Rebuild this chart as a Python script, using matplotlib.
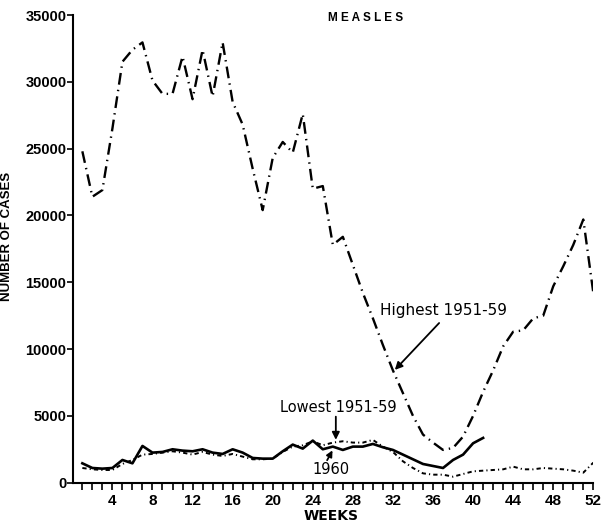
import numpy as np
import matplotlib
matplotlib.use("Agg")
import matplotlib.pyplot as plt
from matplotlib.ticker import MultipleLocator

# weekly measles cases
weeks = np.arange(1, 53)
highest = [24800, 21400, 21900, 26500, 31500, 32400, 32950, 30100, 29100, 29100,
           31900, 28700, 32400, 28900, 32950, 28500, 26800, 23500, 20400, 24300,
           25500, 24700, 27600, 22000, 22200, 17800, 18400, 16300, 14200, 12300,
           10300, 8400, 6700, 5000, 3600, 3000, 2450, 2600, 3450, 5000,
           6800, 8400, 10200, 11300, 11400, 12300, 12500, 14700, 16200, 17800,
           19700, 14200]
lowest = [1100, 1000, 950, 950, 1400, 1700, 2100, 2150, 2250, 2350,
          2250, 2100, 2300, 2100, 2000, 2150, 1950, 1750, 1750, 1800,
          2300, 2700, 2800, 3100, 2800, 3000, 3100, 3000, 3000, 3200,
          2700, 2300, 1600, 1100, 700, 600, 600, 450, 650, 850,
          900, 950, 1000, 1200, 1000, 1000, 1100, 1050, 1000, 900,
          750, 1500]
weeks_1960 = np.arange(1, 42)
cases_1960 = [1450, 1100, 1050, 1100, 1700, 1450, 2750, 2250, 2300, 2500,
              2400, 2350, 2500, 2250, 2150, 2500, 2250, 1850, 1800, 1800,
              2350, 2850, 2550, 3150, 2500, 2700, 2450, 2700, 2700, 2900,
              2650, 2450, 2100, 1750, 1400, 1250, 1100, 1700, 2100, 2950,
              3350]

lab_font = ['Liberation Sans', 'DejaVu Sans']

fig = plt.figure(figsize=(6.05, 5.25), dpi=100)
ax = fig.add_axes([0.1212, 0.0806, 0.8595, 0.8908])

ax.plot(weeks, highest, color='black', lw=1.7, linestyle=(0, (5, 2.2, 0.6, 2.2)))
ax.plot(weeks, lowest, color='black', lw=1.4, linestyle=(0, (2.2, 1.6, 0.6, 1.6)))
ax.plot(weeks_1960, cases_1960, color='black', lw=1.9, linestyle='-')

ax.set_xlim(0.1, 52)
ax.set_ylim(0, 35000)
ax.xaxis.set_major_locator(MultipleLocator(4))
ax.xaxis.set_minor_locator(MultipleLocator(1))
ax.yaxis.set_major_locator(MultipleLocator(5000))
ax.tick_params(axis='x', which='both', direction='out', length=5, width=1.2, pad=3)
ax.tick_params(axis='y', direction='out', length=4, width=1.2, pad=1)
for lab in ax.get_xticklabels():
    lab.set_family(lab_font)
    lab.set_fontweight('bold')
    lab.set_fontsize(11)
for lab in ax.get_yticklabels():
    lab.set_family(lab_font)
    lab.set_fontweight('bold')
    lab.set_fontsize(10.5)

for s in ['top', 'right']:
    ax.spines[s].set_visible(False)
for s in ['left', 'bottom']:
    ax.spines[s].set_linewidth(1.5)

fig.text(331 / 605, 1 - 516 / 525, 'WEEKS', ha='center', va='center',
         fontsize=10, fontweight='bold')
fig.text(7.5 / 605, 1 - 236 / 525, 'NUMBER OF CASES', rotation=90, ha='center',
         va='center', fontsize=9.5, fontweight='bold', family=lab_font)
fig.text(366 / 605, 1 - 18 / 525, 'M E A S L E S', ha='center', va='center',
         fontsize=8.5, fontweight='bold', family=lab_font)

# annotations
ax.text(30.7, 12850, 'Highest 1951-59', fontsize=11, va='center', ha='left')
ax.annotate('', xy=(32.0, 8290), xytext=(36.8, 12100),
            arrowprops=dict(arrowstyle='-|>', color='black', lw=1.3, mutation_scale=11))
ax.text(20.7, 5660, 'Lowest 1951-59', fontsize=10.5, va='center', ha='left')
ax.annotate('', xy=(26.3, 3000), xytext=(26.3, 5150),
            arrowprops=dict(arrowstyle='-|>', color='black', lw=1.3, mutation_scale=11))
ax.text(24.0, 950, '1960', fontsize=10.5, va='center', ha='left')
ax.annotate('', xy=(26.1, 2600), xytext=(25.3, 1500),
            arrowprops=dict(arrowstyle='-|>', color='black', lw=1.3, mutation_scale=9))

fig.savefig('out.png', dpi=100)
